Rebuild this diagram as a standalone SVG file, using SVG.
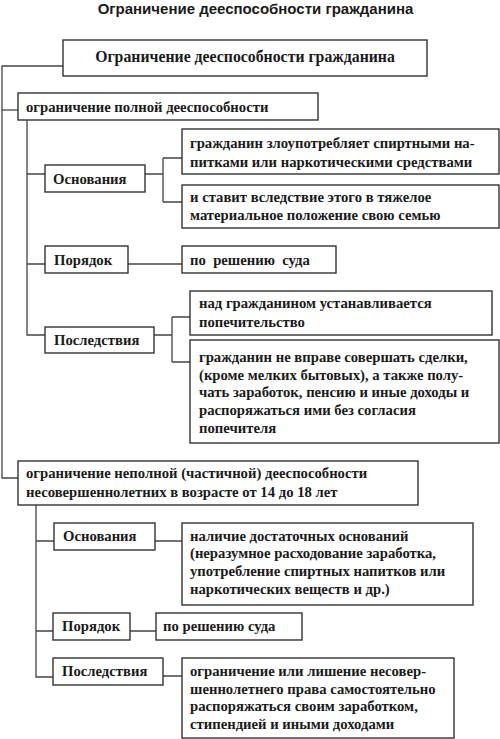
<svg xmlns="http://www.w3.org/2000/svg" width="500" height="739" viewBox="0 0 500 739">
<style>
.b{fill:#fff;stroke:#333;stroke-width:1.4}
.c{fill:none;stroke:#444;stroke-width:1.3}
.t{font-family:'Liberation Serif',serif;font-weight:bold;font-size:14.7px;fill:#1a1a1a}
.h{font-family:'Liberation Sans',sans-serif;font-weight:bold;font-size:15px;fill:#1a1a1a}
</style>
<rect width="500" height="739" fill="#fff"/>
<text class="h" x="255.5" y="14" text-anchor="middle">Ограничение дееспособности гражданина</text>
<g id="connectors">
<path class="c" d="M63,66H2V478H18"/>
<path class="c" d="M2,110H18"/>
<path class="c" d="M27,120V335H45M27,174H45M27,264H45"/>
<path class="c" d="M145,174H163M163,158V202M163,158H182M163,202H182"/>
<path class="c" d="M128,264H182"/>
<path class="c" d="M154,335H172M172,317V362M172,317H190M172,362H190"/>
<path class="c" d="M36,505V677H53M36,541H54M36,631H53"/>
<path class="c" d="M155,541H182M130,631H156M163,676H182"/>
</g>
<g id="root"><rect class="b" x="63" y="40" width="364" height="36"/><text class="t" x="245" y="62" text-anchor="middle" style="font-size:15.8px">Ограничение дееспособности гражданина</text></g>
<g id="full"><rect class="b" x="18" y="93" width="300" height="27"/><text class="t" x="26" y="112">ограничение полной дееспособности</text></g>
<g id="osn1"><rect class="b" x="45" y="165" width="100" height="27"/><text class="t" x="53" y="184">Основания</text></g>
<g id="a1"><rect class="b" x="182" y="129" width="317" height="45"/><text class="t" x="190" y="148">гражданин злоупотребляет спиртными на-</text><text class="t" x="190" y="167">питками или наркотическими средствами</text></g>
<g id="a2"><rect class="b" x="182" y="185" width="317" height="43"/><text class="t" x="190" y="202">и ставит вследствие этого в тяжелое</text><text class="t" x="190" y="220">материальное положение свою семью</text></g>
<g id="por1"><rect class="b" x="45" y="246" width="83" height="27"/><text class="t" x="54" y="265">Порядок</text></g>
<g id="sud1"><rect class="b" x="182" y="246" width="154" height="27"/><text class="t" x="190" y="265" xml:space="preserve">по  решению  суда</text></g>
<g id="posl1"><rect class="b" x="45" y="327" width="109" height="26"/><text class="t" x="54" y="345">Последствия</text></g>
<g id="b1"><rect class="b" x="190" y="291" width="302" height="44"/><text class="t" x="199" y="308">над гражданином устанавливается</text><text class="t" x="199" y="327">попечительство</text></g>
<g id="b2"><rect class="b" x="190" y="340" width="309" height="103"/><text class="t" x="199" y="362">гражданин не вправе совершать сделки,</text><text class="t" x="199" y="380">(кроме мелких бытовых), а также полу-</text><text class="t" x="199" y="397">чать заработок, пенсию и иные доходы и</text><text class="t" x="199" y="415">распоряжаться ими без согласия</text><text class="t" x="199" y="433">попечителя</text></g>
<g id="partial"><rect class="b" x="18" y="461" width="400" height="44"/><text class="t" x="26" y="478">ограничение неполной (частичной) дееспособности</text><text class="t" x="26" y="497">несовершеннолетних в возрасте от 14 до 18 лет</text></g>
<g id="osn2"><rect class="b" x="54" y="523" width="101" height="27"/><text class="t" x="63" y="541">Основания</text></g>
<g id="d"><rect class="b" x="182" y="523" width="291" height="82"/><text class="t" x="190" y="541">наличие достаточных оснований</text><text class="t" x="190" y="558">(неразумное расходование заработка,</text><text class="t" x="190" y="576">употребление спиртных напитков или</text><text class="t" x="190" y="594">наркотических веществ и др.)</text></g>
<g id="por2"><rect class="b" x="53" y="613" width="77" height="27"/><text class="t" x="62" y="631">Порядок</text></g>
<g id="sud2"><rect class="b" x="156" y="613" width="146" height="27"/><text class="t" x="163" y="631">по решению суда</text></g>
<g id="posl2"><rect class="b" x="53" y="658" width="110" height="27"/><text class="t" x="62" y="676">Последствия</text></g>
<g id="e"><rect class="b" x="182" y="658" width="272" height="80"/><text class="t" x="190" y="676">ограничение или лишение несовер-</text><text class="t" x="190" y="694">шеннолетнего права самостоятельно</text><text class="t" x="190" y="711">распоряжаться своим заработком,</text><text class="t" x="190" y="729">стипендией и иными доходами</text></g>
</svg>
